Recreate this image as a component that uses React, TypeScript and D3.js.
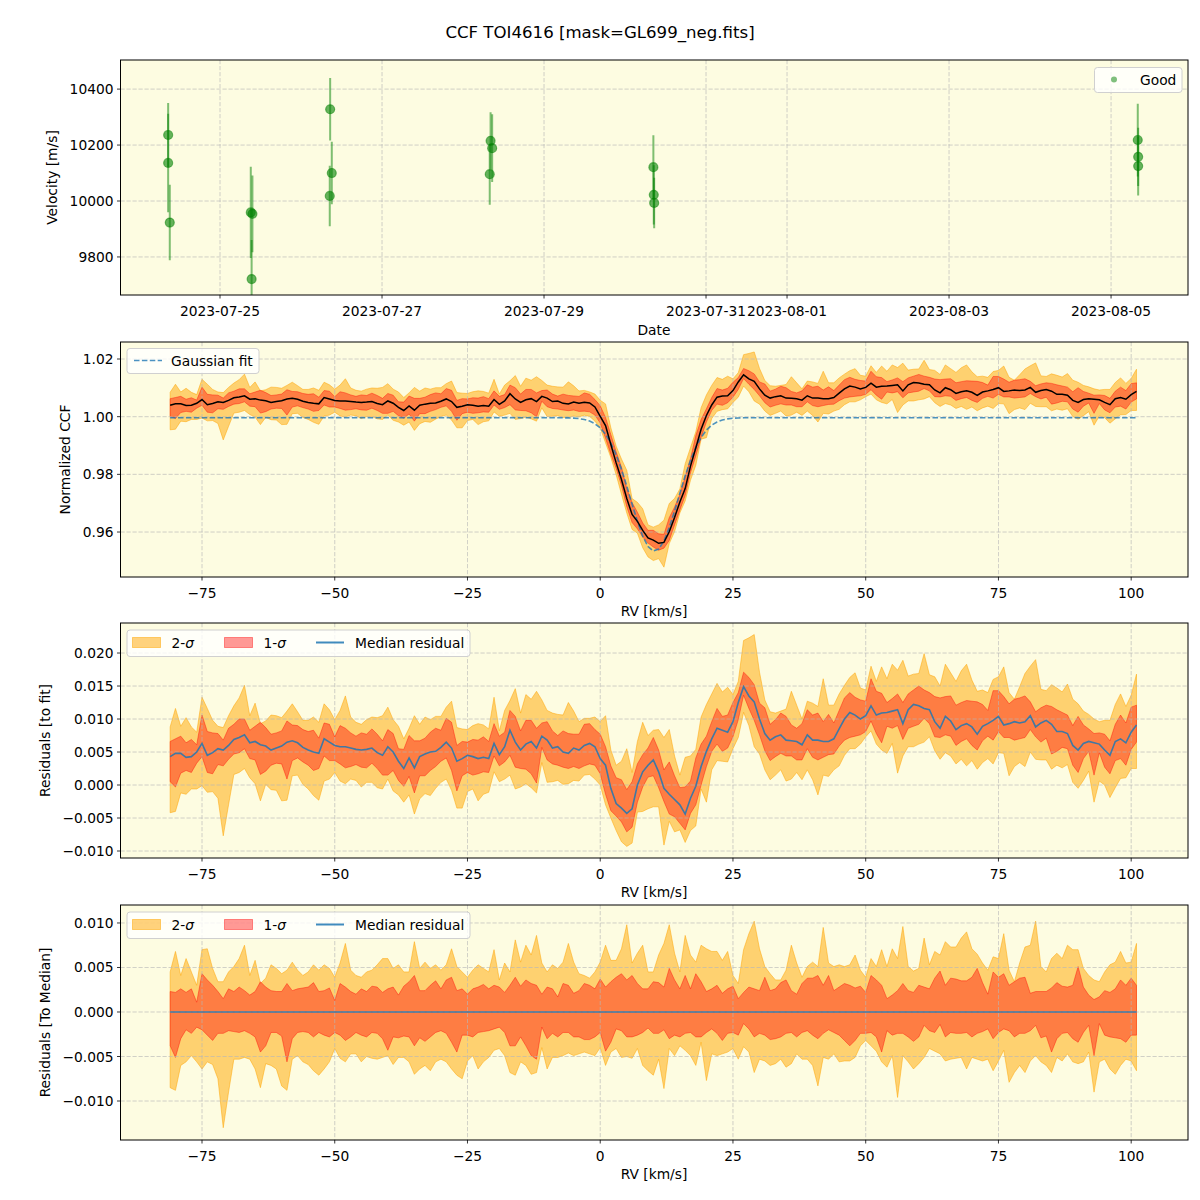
import React from "react";
import * as d3 from "d3";

// ---------- Figure text ----------
const TITLE = "CCF TOI4616 [mask=GL699_neg.fits]";

// ---------- Panel 1: RV time series ----------
const obsTimes = [
  "2023-07-24T08:38", "2023-07-24T08:38", "2023-07-24T09:07",
  "2023-07-25T09:07", "2023-07-25T09:36", "2023-07-25T09:22",
  "2023-07-26T08:38", "2023-07-26T09:07", "2023-07-26T08:31",
  "2023-07-28T08:10", "2023-07-28T08:38", "2023-07-28T07:55",
  "2023-07-30T08:24", "2023-07-30T08:31", "2023-07-30T08:38",
  "2023-08-05T07:55", "2023-08-05T08:02", "2023-08-05T08:02",
];
const obsVelocity = [
  10236, 10136, 9923,
  9959, 9954, 9721,
  10328, 10100, 10018,
  10215, 10189, 10096,
  10121, 10022, 9993,
  10218, 10158, 10125,
];
const obsError = [
  114, 176, 135,
  163, 137, 140,
  112, 112, 108,
  102, 121, 109,
  114, 106, 90,
  130, 104, 105,
];
const dateTicks = ["2023-07-25", "2023-07-27", "2023-07-29", "2023-07-31", "2023-08-01", "2023-08-03", "2023-08-05"];
const velocityTicks = [9800, 10000, 10200, 10400];

// ---------- Panels 2-4: CCF profile on the RV grid (km/s) ----------
const rvGrid = d3.range(-81, 102, 1);
const MILLI = 1e-3;

// median residual to the Gaussian fit, in units of 1e-3
const residualMilli = [
  4.3, 4.8, 4.8, 4.2, 4.3, 5.0, 6.3, 4.5, 4.9, 5.5,
  5.3, 6.0, 6.9, 7.2, 7.6, 6.4, 6.6, 6.1, 5.9, 5.3,
  5.6, 5.9, 6.5, 6.7, 6.4, 5.7, 5.3, 5.0, 4.8, 7.0,
  6.5, 6.0, 5.8, 5.8, 5.6, 5.4, 5.3, 5.4, 5.6, 4.9,
  4.5, 5.8, 5.0, 3.6, 2.5, 4.1, 2.6, 4.3, 4.7, 5.0,
  5.1, 5.7, 6.5, 5.6, 3.6, 4.0, 4.5, 4.3, 4.0, 4.2,
  4.0, 6.3, 4.6, 5.8, 8.3, 6.5, 5.3, 6.2, 6.6, 5.6,
  7.4, 6.8, 5.6, 5.8, 5.0, 4.8, 5.6, 5.3, 6.0, 6.3,
  5.8, 4.0, 3.0, -0.5, -2.8, -3.5, -4.3, -3.6, 0.0, 2.0,
  3.0, 3.8, 2.0, -0.5, -1.4, -2.2, -3.0, -4.4, -2.0, -0.2,
  2.8, 5.1, 7.0, 8.6, 8.3, 8.0, 9.6, 12.5, 14.9, 13.5,
  12.6, 10.0, 7.8, 6.8, 7.3, 7.6, 6.8, 6.7, 6.6, 6.1,
  7.6, 6.8, 6.8, 6.6, 6.6, 7.0, 8.5, 10.0, 11.0, 10.6,
  10.0, 10.5, 12.0, 10.6, 10.9, 11.0, 11.2, 11.4, 9.3, 11.4,
  12.2, 12.0, 11.6, 11.4, 9.6, 8.6, 10.4, 9.7, 8.4, 9.0,
  9.3, 8.8, 7.7, 8.9, 9.3, 9.8, 10.4, 9.1, 9.3, 9.6,
  9.4, 9.6, 10.5, 8.8, 9.4, 9.8, 9.2, 8.1, 8.1, 7.8,
  6.0, 5.3, 6.3, 6.6, 6.4, 6.2, 5.3, 4.5, 6.6, 7.0,
  6.4, 8.0, 9.1,
];

// percentile offsets from the median, in units of 1e-3
const upper2Milli = [
  4.5, 6.8, 4.1, 6.0, 4.5, 3.0, 7.0, 7.1, 4.9, 3.4,
  3.4, 4.5, 5.1, 6.0, 7.5, 4.1, 5.8, 3.2, 3.8, 5.3,
  4.9, 4.3, 4.7, 5.6, 4.7, 4.1, 4.5, 5.3, 4.7, 5.3,
  4.9, 3.9, 5.5, 7.7, 4.7, 4.1, 3.9, 4.5, 4.7, 5.3,
  6.0, 6.0, 4.9, 5.3, 4.5, 4.5, 7.9, 4.9, 5.6, 4.9,
  5.3, 4.7, 5.3, 7.1, 5.1, 4.5, 3.9, 4.7, 5.3, 4.9,
  4.5, 7.0, 3.6, 5.5, 4.5, 8.1, 5.6, 7.5, 6.4, 8.6,
  5.5, 4.5, 5.3, 4.9, 5.6, 7.7, 5.6, 4.3, 4.1, 3.8,
  4.5, 5.6, 7.5, 5.8, 5.8, 7.1, 9.8, 5.5, 6.6, 7.5,
  4.5, 4.5, 6.4, 7.7, 9.8, 6.6, 4.5, 8.6, 6.4, 5.6,
  7.5, 7.1, 6.8, 6.8, 5.8, 6.8, 4.1, 3.2, 7.0, 8.8,
  10.2, 7.1, 5.1, 4.3, 3.6, 3.6, 4.7, 7.5, 5.5, 3.9,
  5.1, 5.6, 5.1, 9.5, 5.5, 5.1, 5.3, 5.1, 5.3, 6.4,
  4.7, 3.9, 6.0, 5.1, 7.0, 5.1, 7.1, 6.0, 9.6, 5.1,
  4.6, 4.9, 8.3, 5.3, 6.8, 6.4, 7.9, 7.3, 7.3, 8.3,
  9.0, 7.1, 6.5, 5.5, 4.7, 6.2, 6.0, 8.8, 4.7, 3.4,
  5.5, 7.3, 7.5, 10.2, 5.1, 4.5, 6.0, 6.6, 6.0, 7.5,
  7.0, 7.0, 4.9, 4.1, 3.6, 3.4, 4.5, 5.3, 5.6, 6.8,
  5.5, 5.6, 7.7,
];
const upper1Milli = [
  2.3, 2.2, 2.6, 2.2, 2.6, 1.1, 4.3, 3.6, 3.0, 2.3,
  1.5, 2.6, 2.3, 2.8, 2.4, 1.9, 2.3, 3.4, 2.8, 2.4,
  2.3, 2.3, 3.2, 2.4, 2.6, 2.7, 2.8, 3.3, 2.3, 2.4,
  2.7, 1.3, 3.2, 2.8, 2.3, 2.0, 2.6, 2.3, 2.9, 2.8,
  2.2, 2.6, 2.8, 1.9, 2.9, 3.4, 4.1, 2.4, 2.4, 3.0,
  3.5, 2.6, 3.6, 3.9, 2.4, 2.6, 2.0, 2.6, 2.8, 3.1,
  2.6, 3.0, 2.8, 2.2, 3.0, 3.9, 2.9, 3.6, 3.2, 3.0,
  2.0, 2.8, 2.6, 1.7, 3.2, 3.0, 2.1, 2.4, 3.2, 3.0,
  2.6, 3.7, 2.8, 3.4, 3.9, 4.3, 3.6, 4.1, 3.2, 2.6,
  2.6, 3.4, 3.3, 2.8, 4.9, 3.6, 2.6, 4.1, 2.6, 4.3,
  3.4, 2.3, 2.6, 3.0, 2.1, 2.6, 2.9, 1.5, 2.2, 2.8,
  2.6, 2.4, 3.9, 2.4, 2.6, 3.3, 3.6, 2.4, 2.0, 3.2,
  3.8, 3.8, 4.1, 3.0, 4.1, 2.4, 2.8, 3.2, 3.0, 2.7,
  2.9, 2.2, 4.1, 3.6, 3.0, 1.5, 1.9, 2.4, 3.2, 2.4,
  2.2, 3.0, 2.8, 2.6, 3.8, 4.6, 3.0, 3.8, 3.7, 3.5,
  3.5, 3.9, 4.9, 3.3, 2.0, 4.5, 3.9, 4.3, 3.0, 3.4,
  3.8, 3.9, 2.1, 2.3, 2.3, 2.3, 2.7, 3.3, 2.9, 2.8,
  3.0, 5.1, 2.8, 1.9, 1.4, 1.7, 2.4, 2.2, 2.6, 3.6,
  3.0, 3.8, 3.0,
];
const lower1Milli = [
  -3.8, -5.1, -3.0, -2.0, -2.4, -1.7, -2.0, -2.6, -3.2, -2.4,
  -2.4, -2.1, -2.2, -2.3, -2.1, -2.4, -2.8, -4.5, -3.8, -2.3,
  -2.3, -2.7, -5.6, -3.0, -2.3, -2.2, -2.3, -2.8, -2.3, -2.6,
  -2.8, -2.3, -2.6, -3.2, -2.8, -2.3, -2.6, -2.8, -2.3, -2.4,
  -3.0, -4.3, -2.8, -2.9, -2.7, -2.8, -3.8, -2.9, -3.3, -2.8,
  -2.3, -2.1, -2.4, -3.4, -4.5, -2.6, -2.6, -2.8, -2.3, -2.2,
  -2.1, -1.9, -1.7, -2.3, -3.8, -3.8, -2.8, -3.8, -4.9, -5.3,
  -1.7, -3.0, -2.4, -2.8, -2.3, -2.3, -2.8, -2.8, -3.1, -3.1,
  -2.8, -2.3, -4.4, -3.4, -1.9, -2.1, -2.8, -2.8, -2.6, -2.3,
  -1.8, -2.4, -2.4, -2.0, -3.0, -2.6, -2.8, -2.4, -2.3, -2.8,
  -2.8, -2.3, -1.9, -2.4, -3.2, -2.4, -2.3, -2.6, -1.3, -1.9,
  -2.8, -2.4, -2.6, -3.1, -3.0, -2.8, -2.4, -2.3, -2.8, -2.3,
  -2.1, -2.6, -3.0, -2.4, -2.0, -2.3, -2.6, -3.2, -3.8, -3.2,
  -2.4, -2.4, -2.3, -2.8, -4.5, -2.1, -2.6, -2.4, -2.4, -2.8,
  -3.3, -2.8, -1.5, -2.1, -2.3, -1.4, -2.8, -2.3, -2.4, -2.4,
  -2.3, -2.8, -2.4, -2.2, -1.9, -3.0, -2.3, -1.9, -2.1, -2.8,
  -2.4, -2.4, -2.1, -1.5, -2.9, -2.7, -4.5, -3.0, -2.4, -2.3,
  -3.0, -3.4, -2.3, -1.5, -4.9, -1.3, -2.6, -2.8, -2.9, -3.0,
  -3.4, -2.6, -2.6,
];
const lower2Milli = [
  -8.5, -8.8, -6.0, -5.6, -4.9, -5.6, -6.4, -5.6, -5.9, -7.5,
  -13.0, -9.0, -5.3, -5.3, -5.1, -5.3, -6.4, -8.5, -5.8, -6.0,
  -6.4, -8.3, -8.8, -5.3, -4.9, -5.6, -5.9, -6.6, -7.1, -6.4,
  -5.6, -4.1, -5.2, -5.6, -4.7, -4.7, -5.6, -5.0, -5.2, -5.3,
  -5.1, -4.9, -5.9, -5.1, -5.1, -5.6, -7.0, -6.4, -6.0, -6.6,
  -5.6, -5.3, -5.6, -6.4, -7.1, -7.5, -5.5, -4.9, -6.4, -5.6,
  -5.1, -4.3, -4.1, -4.9, -6.8, -7.1, -5.6, -6.0, -7.0, -6.8,
  -4.0, -6.4, -5.1, -5.1, -4.9, -4.6, -4.9, -4.7, -4.5, -4.7,
  -4.9, -4.0, -6.0, -4.5, -4.1, -5.1, -5.0, -5.2, -4.1, -6.0,
  -6.6, -7.1, -5.3, -8.6, -4.1, -4.9, -3.8, -4.3, -4.9, -6.0,
  -3.4, -7.7, -4.7, -4.9, -4.7, -4.5, -4.1, -5.3, -3.9, -4.5,
  -6.8, -5.3, -5.5, -6.0, -5.8, -5.3, -6.2, -5.8, -4.7, -5.3,
  -5.3, -6.0, -8.3, -5.1, -5.3, -4.7, -5.6, -5.5, -5.5, -5.1,
  -3.8, -3.2, -3.8, -4.4, -5.6, -6.2, -4.9, -9.6, -4.9, -5.6,
  -6.4, -5.8, -5.1, -4.1, -4.4, -4.7, -5.5, -5.3, -5.2, -5.1,
  -6.4, -5.1, -5.3, -5.5, -5.3, -6.6, -5.5, -4.3, -7.9, -6.8,
  -6.0, -6.8, -5.5, -4.9, -5.6, -6.0, -6.8, -5.1, -5.5, -4.7,
  -5.6, -5.8, -5.6, -4.5, -9.0, -5.6, -5.3, -6.4, -7.0, -6.0,
  -5.3, -5.5, -6.6,
];

// Gaussian fit parameters of the CCF line
const fitContinuum = 0.99965;
const fitDepth = 0.0463;
const fitCenter = 10.2; // km/s
const fitSigma = 4.5; // km/s

const rvTicks = [-75, -50, -25, 0, 25, 50, 75, 100];
const ccfTicks = [0.96, 0.98, 1.0, 1.02];
const residTicks = [-0.01, -0.005, 0, 0.005, 0.01, 0.015, 0.02];
const medianTicks = [-0.01, -0.005, 0, 0.005, 0.01];

// ---------- Layout & style ----------
const FONT = "'DejaVu Sans', Verdana, sans-serif";
const FS = 13.8;
const LEFT = 120.5;
const RIGHT = 1188;
const PANEL_H = 235;
const TOPS = [60, 342, 623, 905];
const BG = "#fdfce1";
const GRID = "#b8b8b8";
const C_ORANGE = "orange";
const C_RED = "red";
const C_BLUE = "#1f77b4";
const MINUS = "\u2212";

const fmtSigned = (digits: number) => (v: number) => {
  const s = Math.abs(v).toFixed(digits);
  return v < -1e-12 ? MINUS + s : s;
};

const parseUTC = d3.utcParse("%Y-%m-%dT%H:%M");
const parseDay = d3.utcParse("%Y-%m-%d");

function gaussianFit(rv: number) {
  const d = rv - fitCenter;
  return fitContinuum - fitDepth * Math.exp(-(d * d) / (2 * fitSigma * fitSigma));
}

type Row = { rv: number; mid: number; lo1: number; hi1: number; lo2: number; hi2: number; fit: number };
const rows: Row[] = rvGrid.map((rv, i) => ({
  rv,
  mid: residualMilli[i] * MILLI,
  lo1: lower1Milli[i] * MILLI,
  hi1: upper1Milli[i] * MILLI,
  lo2: lower2Milli[i] * MILLI,
  hi2: upper2Milli[i] * MILLI,
  fit: gaussianFit(rv),
}));

function Frame({ top, xTicks, yTicks, yFmt, xScale, yScale, xFmt }: any) {
  const bottom = top + PANEL_H;
  return (
    <g>
      <rect x={LEFT} y={top} width={RIGHT - LEFT} height={PANEL_H} fill="none" stroke="#000" strokeWidth={1} />
      {xTicks.map((t: any, i: number) => {
        const x = xScale(t);
        return (
          <g key={"xt" + i}>
            <line x1={x} x2={x} y1={bottom} y2={bottom + 3.5} stroke="#000" strokeWidth={0.8} />
            <text x={x} y={bottom + 20.5} textAnchor="middle" fontSize={FS} fontFamily={FONT}>
              {xFmt(t)}
            </text>
          </g>
        );
      })}
      {yTicks.map((t: number, i: number) => {
        const y = yScale(t);
        return (
          <g key={"yt" + i}>
            <line x1={LEFT - 3.5} x2={LEFT} y1={y} y2={y} stroke="#000" strokeWidth={0.8} />
            <text x={LEFT - 7} y={y + 5} textAnchor="end" fontSize={FS} fontFamily={FONT}>
              {yFmt(t)}
            </text>
          </g>
        );
      })}
    </g>
  );
}

function Grid({ top, xs, ys }: { top: number; xs: number[]; ys: number[] }) {
  const bottom = top + PANEL_H;
  const st = { stroke: GRID, strokeWidth: 0.8, strokeDasharray: "4.2,1.8", opacity: 0.8 };
  return (
    <g>
      {xs.map((x, i) => (
        <line key={"gx" + i} x1={x} x2={x} y1={top} y2={bottom} {...st} />
      ))}
      {ys.map((y, i) => (
        <line key={"gy" + i} x1={LEFT} x2={RIGHT} y1={y} y2={y} {...st} />
      ))}
    </g>
  );
}

function SigmaLegend({ top }: { top: number }) {
  const y0 = top + 7;
  const cy = y0 + 12.5;
  return (
    <g fontFamily={FONT} fontSize={FS}>
      <rect x={127} y={y0} width={343} height={26.5} rx={3} fill="#fff" fillOpacity={0.8} stroke="#d0d0d0" strokeWidth={1} />
      <rect x={132.5} y={cy - 5} width={28} height={10} fill={C_ORANGE} fillOpacity={0.5} stroke={C_ORANGE} strokeOpacity={0.5} />
      <text x={171.5} y={cy + 5}>
        2-<tspan fontStyle="italic">σ</tspan>
      </text>
      <rect x={224.5} y={cy - 5} width={28} height={10} fill={C_RED} fillOpacity={0.4} stroke={C_RED} strokeOpacity={0.4} />
      <text x={263.5} y={cy + 5}>
        1-<tspan fontStyle="italic">σ</tspan>
      </text>
      <line x1={316} x2={344} y1={cy} y2={cy} stroke={C_BLUE} strokeOpacity={0.85} strokeWidth={2} />
      <text x={355} y={cy + 5}>Median residual</text>
    </g>
  );
}

function Bands({ data, x, y, base }: { data: Row[]; x: any; y: any; base: (r: Row) => number }) {
  const a2 = d3
    .area<Row>()
    .x((d) => x(d.rv))
    .y0((d) => y(base(d) + d.mid + d.lo2))
    .y1((d) => y(base(d) + d.mid + d.hi2));
  const a1 = d3
    .area<Row>()
    .x((d) => x(d.rv))
    .y0((d) => y(base(d) + d.mid + d.lo1))
    .y1((d) => y(base(d) + d.mid + d.hi1));
  return (
    <g>
      <path d={a2(data) || ""} fill={C_ORANGE} fillOpacity={0.5} stroke={C_ORANGE} strokeOpacity={0.5} strokeWidth={1} />
      <path d={a1(data) || ""} fill={C_RED} fillOpacity={0.4} stroke={C_RED} strokeOpacity={0.4} strokeWidth={1} />
    </g>
  );
}

export default function App() {
  // ----- scales -----
  const tScale = d3
    .scaleUtc()
    .domain([parseUTC("2023-07-23T18:31") as Date, parseUTC("2023-08-05T22:48") as Date])
    .range([LEFT, RIGHT]);
  const vScale = d3.scaleLinear().domain([9664, 10504]).range([TOPS[0] + PANEL_H, TOPS[0]]);

  const rvScale = d3.scaleLinear().domain([-90.35, 110.7]).range([LEFT, RIGHT]);
  const ccfScale = d3.scaleLinear().domain([0.9444, 1.0259]).range([TOPS[1] + PANEL_H, TOPS[1]]);
  const resScale = d3.scaleLinear().domain([-0.01106, 0.02455]).range([TOPS[2] + PANEL_H, TOPS[2]]);
  const medScale = d3.scaleLinear().domain([-0.01438, 0.01202]).range([TOPS[3] + PANEL_H, TOPS[3]]);

  const dayTicks = dateTicks.map((d) => parseDay(d) as Date);
  const obs = obsTimes.map((t, i) => ({ t: parseUTC(t) as Date, v: obsVelocity[i], e: obsError[i] }));

  const ccfLine = d3
    .line<Row>()
    .x((d) => rvScale(d.rv))
    .y((d) => ccfScale(d.fit + d.mid));
  const fitLine = d3
    .line<Row>()
    .x((d) => rvScale(d.rv))
    .y((d) => ccfScale(d.fit));
  const resLine = d3
    .line<Row>()
    .x((d) => rvScale(d.rv))
    .y((d) => resScale(d.mid));
  const medLine = d3
    .line<Row>()
    .x((d) => rvScale(d.rv))
    .y(() => medScale(0));

  const rvTickX = rvTicks.map((t) => rvScale(t));
  const fmtInt = (v: number) => fmtSigned(0)(v);

  return (
    <svg
      width={1200}
      height={1200}
      viewBox="0 0 1200 1200"
      style={{ position: "absolute", left: 0, top: 0, display: "block" }}
      xmlns="http://www.w3.org/2000/svg"
    >
      <defs>
        {TOPS.map((t, i) => (
          <clipPath id={"clip" + i} key={i}>
            <rect x={LEFT} y={t} width={RIGHT - LEFT} height={PANEL_H} />
          </clipPath>
        ))}
      </defs>
      <rect x={0} y={0} width={1200} height={1200} fill="#fff" />

      <text x={600} y={38} textAnchor="middle" fontSize={16.6} fontFamily={FONT}>
        {TITLE}
      </text>

      {/* ---------- Panel 1: velocities ---------- */}
      <rect x={LEFT} y={TOPS[0]} width={RIGHT - LEFT} height={PANEL_H} fill={BG} />
      <Grid top={TOPS[0]} xs={dayTicks.map((d) => tScale(d))} ys={velocityTicks.map((v) => vScale(v))} />
      <g clipPath="url(#clip0)">
        {obs.map((o, i) => (
          <line
            key={"eb" + i}
            x1={tScale(o.t)}
            x2={tScale(o.t)}
            y1={vScale(o.v - o.e)}
            y2={vScale(o.v + o.e)}
            stroke="green"
            strokeOpacity={0.5}
            strokeWidth={2}
          />
        ))}
        {obs.map((o, i) => (
          <circle
            key={"pt" + i}
            cx={tScale(o.t)}
            cy={vScale(o.v)}
            r={4.5}
            fill="green"
            fillOpacity={0.6}
            stroke="green"
            strokeOpacity={0.5}
            strokeWidth={1.2}
          />
        ))}
      </g>
      <Frame
        top={TOPS[0]}
        xTicks={dayTicks}
        yTicks={velocityTicks}
        xScale={tScale}
        yScale={vScale}
        xFmt={d3.utcFormat("%Y-%m-%d")}
        yFmt={(v: number) => String(v)}
      />
      <g fontFamily={FONT} fontSize={FS}>
        <rect x={1094.5} y={67.5} width={87.5} height={25} rx={3} fill="#fff" fillOpacity={0.8} stroke="#d0d0d0" />
        <circle cx={1114} cy={79.5} r={3} fill="green" fillOpacity={0.5} />
        <text x={1140} y={84.5}>Good</text>
      </g>
      <text x={654} y={335} textAnchor="middle" fontSize={FS} fontFamily={FONT}>
        Date
      </text>
      <text transform={`translate(57,${TOPS[0] + PANEL_H / 2}) rotate(-90)`} textAnchor="middle" fontSize={FS} fontFamily={FONT}>
        Velocity [m/s]
      </text>

      {/* ---------- Panel 2: normalized CCF ---------- */}
      <rect x={LEFT} y={TOPS[1]} width={RIGHT - LEFT} height={PANEL_H} fill={BG} />
      <g clipPath="url(#clip1)">
        <Bands data={rows} x={rvScale} y={ccfScale} base={(r) => r.fit} />
      </g>
      <Grid top={TOPS[1]} xs={rvTickX} ys={ccfTicks.map((v) => ccfScale(v))} />
      <g clipPath="url(#clip1)">
        <path d={fitLine(rows) || ""} fill="none" stroke={C_BLUE} strokeOpacity={0.8} strokeWidth={1.6} strokeDasharray="5.5,2.4" />
        <path d={ccfLine(rows) || ""} fill="none" stroke="#000" strokeWidth={1.5} />
      </g>
      <Frame
        top={TOPS[1]}
        xTicks={rvTicks}
        yTicks={ccfTicks}
        xScale={rvScale}
        yScale={ccfScale}
        xFmt={fmtInt}
        yFmt={(v: number) => v.toFixed(2)}
      />
      <g fontFamily={FONT} fontSize={FS}>
        <rect x={127} y={348.5} width={132} height={25} rx={3} fill="#fff" fillOpacity={0.8} stroke="#d0d0d0" />
        <line x1={134} x2={162} y1={360.5} y2={360.5} stroke={C_BLUE} strokeOpacity={0.8} strokeWidth={1.6} strokeDasharray="5.5,2.4" />
        <text x={171} y={365.5}>Gaussian fit</text>
      </g>
      <text x={654} y={TOPS[1] + PANEL_H + 39} textAnchor="middle" fontSize={FS} fontFamily={FONT}>
        RV [km/s]
      </text>
      <text transform={`translate(70,${TOPS[1] + PANEL_H / 2}) rotate(-90)`} textAnchor="middle" fontSize={FS} fontFamily={FONT}>
        Normalized CCF
      </text>

      {/* ---------- Panel 3: residuals to the fit ---------- */}
      <rect x={LEFT} y={TOPS[2]} width={RIGHT - LEFT} height={PANEL_H} fill={BG} />
      <g clipPath="url(#clip2)">
        <Bands data={rows} x={rvScale} y={resScale} base={() => 0} />
      </g>
      <Grid top={TOPS[2]} xs={rvTickX} ys={residTicks.map((v) => resScale(v))} />
      <g clipPath="url(#clip2)">
        <path d={resLine(rows) || ""} fill="none" stroke={C_BLUE} strokeOpacity={0.85} strokeWidth={1.6} />
      </g>
      <Frame
        top={TOPS[2]}
        xTicks={rvTicks}
        yTicks={residTicks}
        xScale={rvScale}
        yScale={resScale}
        xFmt={fmtInt}
        yFmt={fmtSigned(3)}
      />
      <SigmaLegend top={TOPS[2]} />
      <text x={654} y={TOPS[2] + PANEL_H + 39} textAnchor="middle" fontSize={FS} fontFamily={FONT}>
        RV [km/s]
      </text>
      <text transform={`translate(50,${TOPS[2] + PANEL_H / 2}) rotate(-90)`} textAnchor="middle" fontSize={FS} fontFamily={FONT}>
        Residuals [to fit]
      </text>

      {/* ---------- Panel 4: residuals to the median ---------- */}
      <rect x={LEFT} y={TOPS[3]} width={RIGHT - LEFT} height={PANEL_H} fill={BG} />
      <g clipPath="url(#clip3)">
        <Bands data={rows.map((r) => ({ ...r, mid: 0 }))} x={rvScale} y={medScale} base={() => 0} />
      </g>
      <Grid top={TOPS[3]} xs={rvTickX} ys={medianTicks.map((v) => medScale(v))} />
      <g clipPath="url(#clip3)">
        <path d={medLine(rows) || ""} fill="none" stroke={C_BLUE} strokeOpacity={0.85} strokeWidth={1.6} />
      </g>
      <Frame
        top={TOPS[3]}
        xTicks={rvTicks}
        yTicks={medianTicks}
        xScale={rvScale}
        yScale={medScale}
        xFmt={fmtInt}
        yFmt={fmtSigned(3)}
      />
      <SigmaLegend top={TOPS[3]} />
      <text x={654} y={TOPS[3] + PANEL_H + 39} textAnchor="middle" fontSize={FS} fontFamily={FONT}>
        RV [km/s]
      </text>
      <text transform={`translate(50,${TOPS[3] + PANEL_H / 2}) rotate(-90)`} textAnchor="middle" fontSize={FS} fontFamily={FONT}>
        Residuals [To Median]
      </text>
    </svg>
  );
}
